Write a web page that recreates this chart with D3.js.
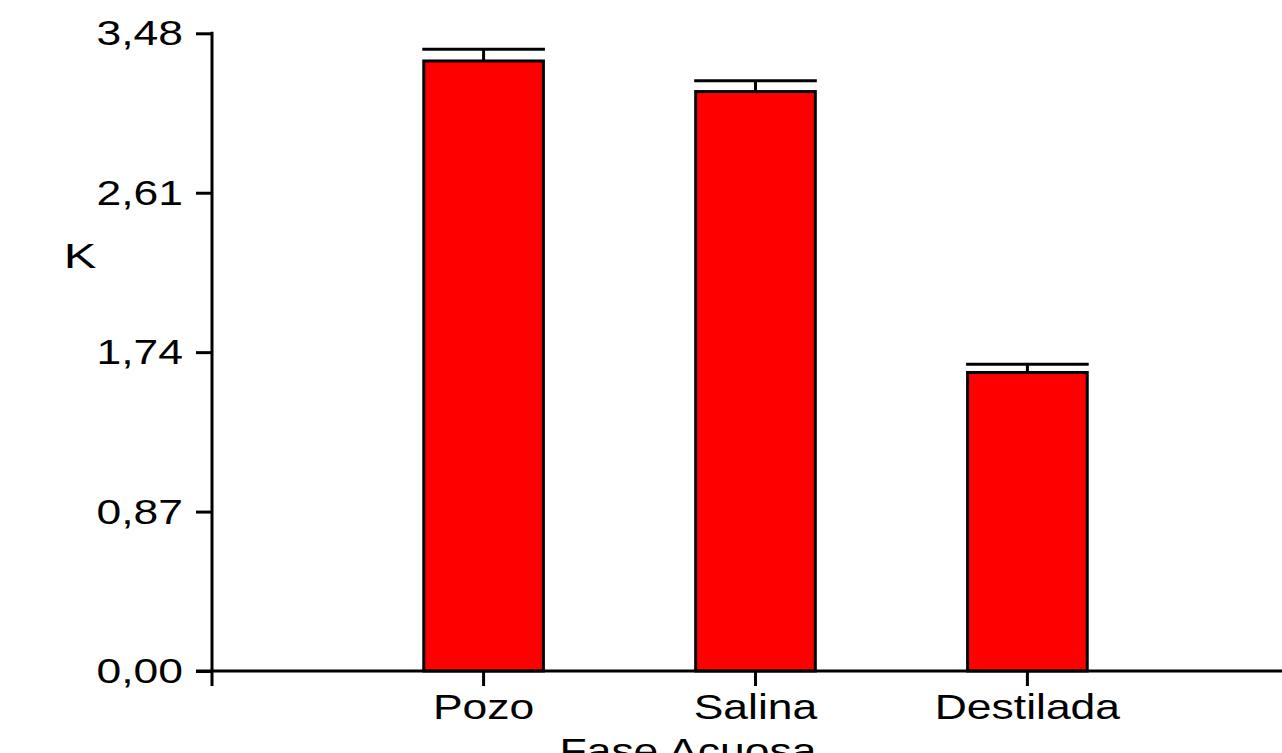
<!DOCTYPE html>
<html>
<head>
<meta charset="utf-8">
<script src="https://cdn.jsdelivr.net/npm/d3@7"></script>
<style>
  html, body { margin: 0; padding: 0; background: #fff; overflow: hidden; }
  svg { display: block; }
  text { font-family: "Liberation Sans", Arial, sans-serif; font-size: 35px; fill: #000; }
</style>
</head>
<body>
<svg id="chart" width="1282" height="753"></svg>
<script>
const categories = ["Pozo", "Salina", "Destilada"];
const values = [3.329, 3.162, 1.629];
const errors = [0.064, 0.059, 0.045];
const yTicks = [0, 0.87, 1.74, 2.61, 3.48];
const yLabel = "K";
const xLabel = "Fase Acuosa";

const svg = d3.select("#chart");
const SX = 1.27; // horizontal stretch of text seen in the reference

const y = d3.scaleLinear().domain([0, 3.48]).range([671, 33.3]);
const x = d3.scaleBand().domain(categories).range([228, 1283])
  .paddingInner(0.56).paddingOuter(0.72);

const axisX0 = 212;
const fmt = v => d3.format(".2f")(v).replace(".", ",");

// Bars
svg.append("g").selectAll("rect").data(categories).join("rect")
  .attr("x", d => x(d))
  .attr("y", (d, i) => y(values[i]))
  .attr("width", x.bandwidth())
  .attr("height", (d, i) => y(0) - y(values[i]))
  .attr("fill", "#ff0000")
  .attr("stroke", "#000")
  .attr("stroke-width", 3);

// Error bars
const eg = svg.append("g").attr("stroke", "#000").attr("stroke-width", 3);
categories.forEach((c, i) => {
  const cx = x(c) + x.bandwidth() / 2;
  eg.append("line").attr("x1", cx).attr("x2", cx)
    .attr("y1", y(values[i])).attr("y2", y(values[i] + errors[i]));
  eg.append("line").attr("x1", x(c) - 1.5).attr("x2", x(c) + x.bandwidth() + 1.5)
    .attr("y1", y(values[i] + errors[i])).attr("y2", y(values[i] + errors[i]));
});

// Y axis
const yAxis = svg.append("g").attr("transform", `translate(${axisX0},0)`)
  .call(d3.axisLeft(y).tickValues(yTicks).tickFormat(fmt).tickSize(16).tickSizeOuter(0));
yAxis.select(".domain").remove();
yAxis.selectAll(".tick line").attr("stroke", "#000").attr("stroke-width", 3);
yAxis.selectAll(".tick text")
  .attr("x", null).attr("dy", null)
  .attr("text-anchor", "end")
  .attr("transform", `translate(-29,11.5) scale(${SX},1)`)
  .style("font-size", "35px")
  .style("font-family", "'Liberation Sans', Arial, sans-serif");
svg.append("line").attr("x1", axisX0).attr("x2", axisX0)
  .attr("y1", y(3.48) - 1.5).attr("y2", y(0) + 15)
  .attr("stroke", "#000").attr("stroke-width", 3);

// X axis
const xAxis = svg.append("g").attr("transform", `translate(0,${y(0)})`)
  .call(d3.axisBottom(x).tickSize(15).tickSizeOuter(0));
xAxis.select(".domain").remove();
xAxis.selectAll(".tick line").attr("stroke", "#000").attr("stroke-width", 3);
xAxis.selectAll(".tick text")
  .attr("y", null).attr("dy", null)
  .attr("text-anchor", "middle")
  .attr("transform", `translate(0,48) scale(${SX},1)`)
  .style("font-size", "35px")
  .style("font-family", "'Liberation Sans', Arial, sans-serif");
svg.append("line").attr("x1", 196).attr("x2", 1282)
  .attr("y1", y(0)).attr("y2", y(0))
  .attr("stroke", "#000").attr("stroke-width", 3);

// Axis titles
svg.append("text").attr("text-anchor", "middle")
  .attr("transform", `translate(80,268) scale(1.4,1)`)
  .text(yLabel);
svg.append("text").attr("text-anchor", "middle")
  .attr("transform", `translate(688,763) scale(${SX},1)`)
  .text(xLabel);
</script>
</body>
</html>
